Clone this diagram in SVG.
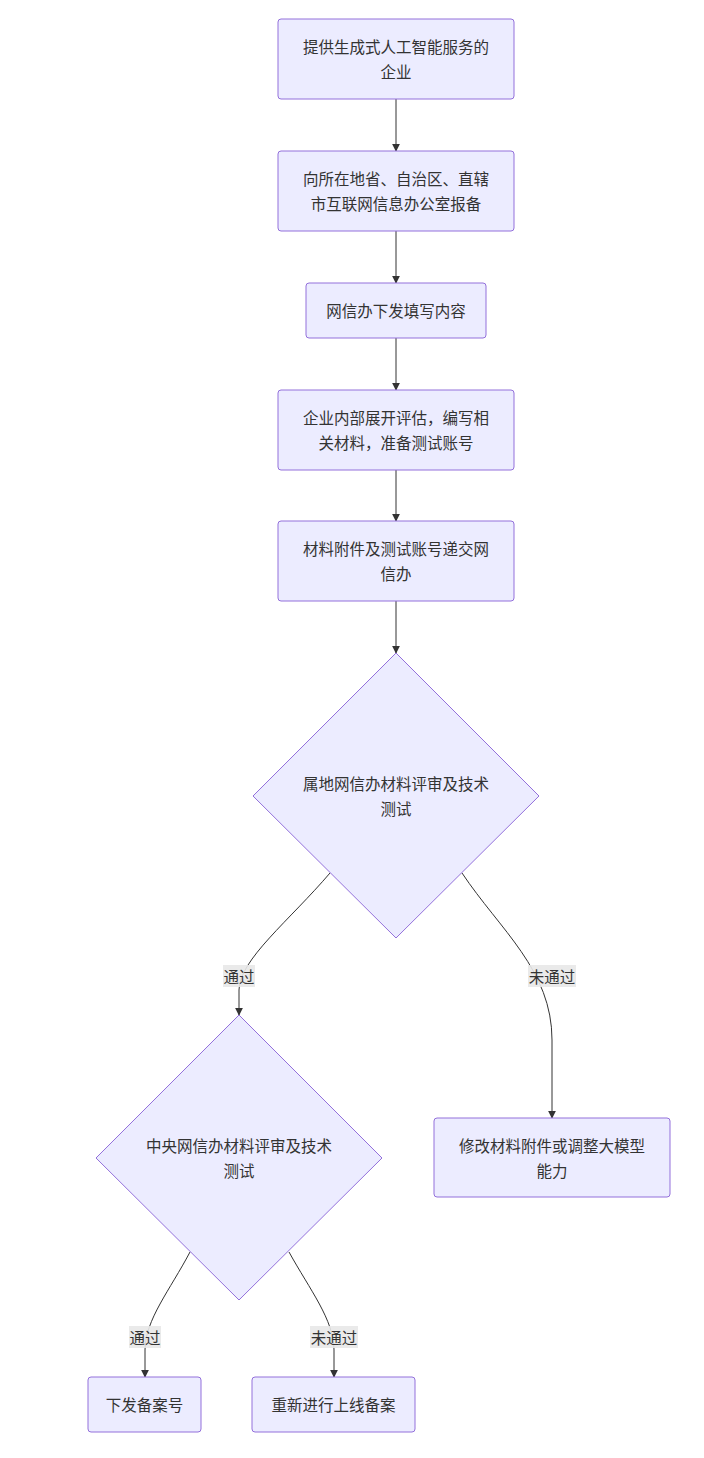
<svg xmlns="http://www.w3.org/2000/svg" width="704" height="1458" viewBox="0 0 704 1458">
<style>
.n{fill:#ECECFF;stroke:#9370DB;stroke-width:1}
text{font-family:"Noto Sans CJK SC","Noto Sans",sans-serif;font-size:15.5px;fill:#333;text-anchor:middle;dominant-baseline:central}
.e{fill:none;stroke:#333;stroke-width:1}
.lb{fill:#e8e8e8;opacity:0.9}
</style>
<defs><marker id="a" viewBox="0 0 10 10" refX="9" refY="5" markerWidth="8" markerHeight="8" orient="auto"><path d="M0,0L10,5L0,10z" fill="#333"/></marker></defs>
<rect width="704" height="1458" fill="#fff"/>
<g id="edges">
<path class="e" d="M396,99V151" marker-end="url(#a)"/>
<path class="e" d="M396,231V283" marker-end="url(#a)"/>
<path class="e" d="M396,338V390" marker-end="url(#a)"/>
<path class="e" d="M396,470V521" marker-end="url(#a)"/>
<path class="e" d="M396,601V653" marker-end="url(#a)"/>
<path class="e" d="M330,873C290,920 239,960 239,990V1015" marker-end="url(#a)"/>
<path class="e" d="M462,873C500,930 552,970 552,1040V1118" marker-end="url(#a)"/>
<path class="e" d="M190,1252C170,1290 145,1320 145,1350V1377" marker-end="url(#a)"/>
<path class="e" d="M289,1252C310,1290 334,1320 334,1350V1377" marker-end="url(#a)"/>
<rect class="lb" x="223" y="965" width="32" height="22"/><text x="239" y="976">通过</text>
<rect class="lb" x="528" y="965" width="48" height="22"/><text x="552" y="976">未通过</text>
<rect class="lb" x="129" y="1326" width="32" height="22"/><text x="145" y="1337">通过</text>
<rect class="lb" x="310" y="1326" width="48" height="22"/><text x="334" y="1337">未通过</text>
</g>
<g id="n1"><rect class="n" x="278" y="19" width="236" height="80" rx="3"/><text x="396" y="46">提供生成式人工智能服务的</text><text x="396" y="71">企业</text></g>
<g id="n2"><rect class="n" x="278" y="151" width="236" height="80" rx="3"/><text x="396" y="178">向所在地省、自治区、直辖</text><text x="396" y="203">市互联网信息办公室报备</text></g>
<g id="n3"><rect class="n" x="306" y="283" width="180" height="55" rx="3"/><text x="396" y="310">网信办下发填写内容</text></g>
<g id="n4"><rect class="n" x="278" y="390" width="236" height="80" rx="3"/><text x="396" y="417">企业内部展开评估，编写相</text><text x="396" y="442">关材料，准备测试账号</text></g>
<g id="n5"><rect class="n" x="278" y="521" width="236" height="80" rx="3"/><text x="396" y="548">材料附件及测试账号递交网</text><text x="396" y="573">信办</text></g>
<g id="d1"><polygon class="n" points="396,653 539,796 396,938 253,796"/><text x="396" y="783">属地网信办材料评审及技术</text><text x="396" y="808">测试</text></g>
<g id="d2"><polygon class="n" points="239,1015 382,1158 239,1300 96,1158"/><text x="239" y="1145">中央网信办材料评审及技术</text><text x="239" y="1170">测试</text></g>
<g id="n6"><rect class="n" x="434" y="1118" width="236" height="79" rx="3"/><text x="552" y="1145">修改材料附件或调整大模型</text><text x="552" y="1170">能力</text></g>
<g id="n7"><rect class="n" x="88" y="1377" width="113" height="55" rx="3"/><text x="144.5" y="1404">下发备案号</text></g>
<g id="n8"><rect class="n" x="252" y="1377" width="163" height="55" rx="3"/><text x="333.5" y="1404">重新进行上线备案</text></g>
</svg>
